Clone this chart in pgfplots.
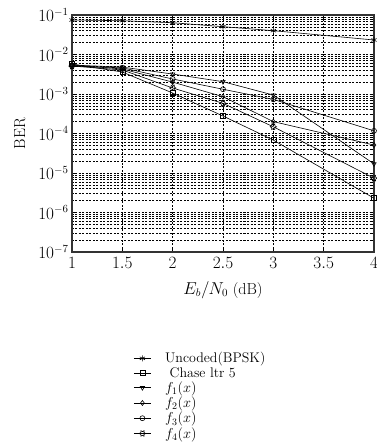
\documentclass[border=0pt]{standalone}
\usepackage{pgfplots}
\pgfplotsset{compat=1.18}
\pgfdeclareplotmark{hexagram}{%
  \pgfpathmoveto{\pgfqpointpolar{0}{\pgfplotmarksize}}%
  \pgfpathlineto{\pgfqpointpolar{30}{0.577\pgfplotmarksize}}%
  \pgfpathlineto{\pgfqpointpolar{60}{\pgfplotmarksize}}%
  \pgfpathlineto{\pgfqpointpolar{90}{0.577\pgfplotmarksize}}%
  \pgfpathlineto{\pgfqpointpolar{120}{\pgfplotmarksize}}%
  \pgfpathlineto{\pgfqpointpolar{150}{0.577\pgfplotmarksize}}%
  \pgfpathlineto{\pgfqpointpolar{180}{\pgfplotmarksize}}%
  \pgfpathlineto{\pgfqpointpolar{210}{0.577\pgfplotmarksize}}%
  \pgfpathlineto{\pgfqpointpolar{240}{\pgfplotmarksize}}%
  \pgfpathlineto{\pgfqpointpolar{270}{0.577\pgfplotmarksize}}%
  \pgfpathlineto{\pgfqpointpolar{300}{\pgfplotmarksize}}%
  \pgfpathlineto{\pgfqpointpolar{330}{0.577\pgfplotmarksize}}%
  \pgfpathclose
  \pgfusepathqstroke}
\begin{document}
\begin{tikzpicture}
\begin{axis}[
  name=ax,
  scale only axis, width=302bp, height=237bp,
  xmin=1, xmax=4, ymode=log, ymin=1e-7, ymax=1e-1,
  xtick={1,1.5,2,2.5,3,3.5,4},
  ytick={1e-7,1e-6,1e-5,1e-4,1e-3,1e-2,1e-1},
  xmajorgrids, ymajorgrids, yminorgrids,
  major grid style={black, line width=0.5bp, dash pattern=on 2bp off 1.5bp},
  minor grid style={black, line width=0.5bp, dash pattern=on 2bp off 1.5bp},
  axis line style={line width=1.2bp, black!80},
  tick align=inside,
  major tick length=4bp, minor tick length=2bp,
  tick style={black, line width=0.5bp},
  tick label style={font=\fontsize{16}{19}\selectfont},
  label style={font=\fontsize{16}{19}\selectfont},
  xlabel={$E_b/N_0$ (dB)},
  ylabel={BER},
  xticklabel shift=2bp,
  xlabel shift=6bp,
  ylabel shift=6bp,
  legend style={at={(0.2,-0.41)}, anchor=north west, draw=none, fill=none,
    font=\fontsize{14}{17}\selectfont, row sep=-1bp, inner sep=1bp, column sep=12bp},
  legend cell align=left,
  every axis plot/.append style={black, line width=0.6bp, mark size=2.5bp, mark options={solid, line width=0.6bp, fill=white}},
]
\addplot[mark=asterisk, mark size=3bp] coordinates {(1,0.0747) (1.5,0.0717) (2,0.0638) (2.5,0.0506) (3,0.0401) (4,0.0233)};
\addlegendentry{Uncoded(BPSK)}
\addplot[mark=square] coordinates {(1,5.75e-3) (1.5,3.6e-3) (2,1.06e-3) (2.5,2.77e-4) (3,6.8e-5) (4,2.3e-6)};
\addlegendentry{\ Chase ltr 5}
\addplot[mark=triangle, mark options={rotate=180}] coordinates {(1,5.4e-3) (1.5,4.8e-3) (2,3.2e-3) (2.5,2.05e-3) (3,9.4e-4) (4,1.7e-5)};
\addlegendentry{$f_1(x)$}
\addplot[mark=diamond] coordinates {(1,5.4e-3) (1.5,4.3e-3) (2,2.0e-3) (2.5,8.55e-4) (3,2.0e-4) (4,5.1e-5)};
\addlegendentry{$f_2(x)$}
\addplot[mark=o] coordinates {(1,5.1e-3) (1.5,4.6e-3) (2,2.4e-3) (2.5,1.32e-3) (3,7.3e-4) (4,1.17e-4)};
\addlegendentry{$f_3(x)$}
\addplot[mark=hexagram, mark size=3.2bp] coordinates {(1,5.1e-3) (1.5,4.06e-3) (2,1.42e-3) (2.5,5.8e-4) (3,1.48e-4) (4,7.4e-6)};
\addlegendentry{$f_4(x)$}
\end{axis}
\pgfresetboundingbox
\path[use as bounding box] ([xshift=-72bp,yshift=-196bp]ax.south west) rectangle ([xshift=3bp,yshift=15bp]ax.north east);
\end{tikzpicture}
\end{document}
